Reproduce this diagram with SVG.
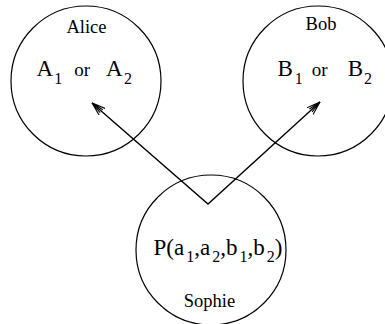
<svg xmlns="http://www.w3.org/2000/svg" width="385" height="324" viewBox="0 0 385 324">
<style>
.c{fill:none;stroke:#000;stroke-width:1.2}
.t{font-family:"Liberation Serif","Times New Roman",serif;fill:#000}
.l{font-size:18.5px}
.b{font-size:23px}
.o{font-size:19px}
.s{font-size:16px}
.e{stroke:#000;stroke-width:1.4;fill:none}
</style>
<defs>
<marker id="ah" viewBox="0 0 14 10" refX="13.5" refY="5" markerWidth="14" markerHeight="10" markerUnits="userSpaceOnUse" orient="auto-start-reverse">
<path d="M0,0.5 L13.5,5 L0,9.5 M1,3 L13.5,5 L1,7" fill="none" stroke="#000" stroke-width="1.1"/>
</marker>
</defs>
<g id="alice">
<circle class="c" cx="86" cy="81" r="75"/>
<text class="t l" x="86.5" y="33" text-anchor="middle">Alice</text>
<text class="t" x="36.5" y="76"><tspan class="b">A</tspan><tspan class="s" dy="8" dx="1">1</tspan><tspan class="o" dy="-8" dx="12">or</tspan><tspan class="b" dx="16">A</tspan><tspan class="s" dy="8" dx="1.5">2</tspan></text>
</g>
<g id="bob">
<circle class="c" cx="318" cy="81" r="75"/>
<text class="t l" x="321" y="30" text-anchor="middle">Bob</text>
<text class="t" x="277.5" y="76"><tspan class="b">B</tspan><tspan class="s" dy="8" dx="2">1</tspan><tspan class="o" dy="-8" dx="9">or</tspan><tspan class="b" dx="20">B</tspan><tspan class="s" dy="8" dx="1">2</tspan></text>
</g>
<g id="sophie">
<circle class="c" cx="211" cy="250" r="75"/>
<text class="t b" x="153.5" y="255">P(a<tspan class="s" dy="7" dx="2">1</tspan><tspan dy="-7">,a</tspan><tspan class="s" dy="7" dx="2">2</tspan><tspan dy="-7">,b</tspan><tspan class="s" dy="7" dx="2">1</tspan><tspan dy="-7">,b</tspan><tspan class="s" dy="7" dx="2">2</tspan><tspan dy="-7">)</tspan></text>
<text class="t l" x="209.5" y="307" text-anchor="middle">Sophie</text>
</g>
<g id="connectors">
<polyline class="e" points="92,103 208,204 320,102" marker-start="url(#ah)" marker-end="url(#ah)"/>
</g>
</svg>
